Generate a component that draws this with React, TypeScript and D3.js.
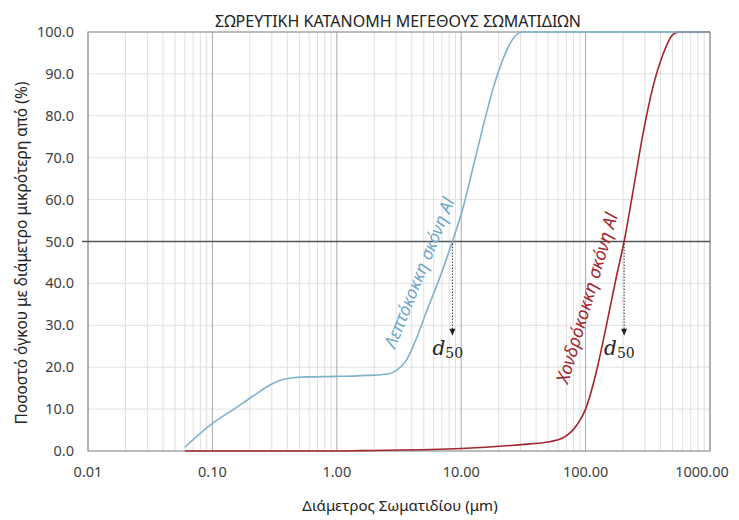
import React from "react";
import * as d3 from "d3";

const W = 739;
const H = 520;

const title = "ΣΩΡΕΥΤΙΚΗ ΚΑΤΑΝΟΜΗ ΜΕΓΕΘΟΥΣ ΣΩΜΑΤΙΔΙΩΝ";
const xTitle = "Διάμετρος Σωματιδίου (μm)";
const yTitle = "Ποσοστό όγκου  με διάμετρο μικρότερη από (%)";

const xTicks = [0.01, 0.1, 1, 10, 100, 1000];
const xTickLabels = ["0.01", "0.10", "1.00", "10.00", "100.00", "1000.00"];
const yTicks = [0, 10, 20, 30, 40, 50, 60, 70, 80, 90, 100];

const fineX = [0.06, 0.1, 0.146, 0.21, 0.3, 0.36, 0.45, 0.6, 1.0, 2.0, 2.68, 3.03, 3.63, 4.37, 5.26, 6.75, 8.5, 10.4, 12.5, 15.1, 18.1, 21.8, 26.3, 30.6, 1000];
const fineY = [0.9, 6.6, 9.8, 13.0, 16.0, 17.0, 17.5, 17.7, 17.8, 18.1, 18.5, 19.3, 21.7, 26.9, 33.3, 41.5, 50, 58.3, 67.9, 77.8, 86.6, 93.7, 98.5, 100, 100];

const coarseX = [0.06, 0.3, 1, 1.6, 10, 35.5, 48.6, 65.5, 85, 100, 122, 147, 178, 204, 240, 288, 346, 417, 500, 565, 1000];
const coarseY = [0, 0, 0, 0.1, 0.6, 1.7, 2.1, 3.1, 6.2, 10, 18.9, 30, 42, 50, 61.8, 75.4, 86.6, 94.5, 99.3, 100, 100];

const d50Fine = 8.5;
const d50Coarse = 204;

const fineLabel = "Λεπτόκοκκη σκόνη Al";
const coarseLabel = "Χονδρόκοκκη σκόνη Al";

const FINE = "#7fb2cc";
const COARSE = "#a3262e";
const FONT = "'Noto Sans', 'Open Sans', sans-serif";

export default function App() {
  const left = 88, right = 710, top = 32, bottom = 451;
  const x = d3.scaleLog().domain([0.01, 1000]).range([left, right]);
  const y = d3.scaleLinear().domain([0, 100]).range([bottom, top]);

  const minor: number[] = [];
  for (let e = -2; e < 3; e++) {
    for (let k = 2; k <= 9; k++) minor.push(k * Math.pow(10, e));
  }

  const line = d3
    .line<[number, number]>()
    .x((d) => x(d[0]))
    .y((d) => y(d[1]))
    .curve(d3.curveMonotoneX);

  const fineData = fineX.map((v, i) => [v, fineY[i]] as [number, number]);
  const coarseData = coarseX.map((v, i) => [v, coarseY[i]] as [number, number]);

  const arrow = (xv: number) => {
    const px = x(xv);
    const y0 = y(50) + 2;
    const y1 = y(27.5);
    return (
      <g>
        <line x1={px} x2={px} y1={y0} y2={y1 - 6} stroke="#333" strokeWidth={1} strokeDasharray="1.5,1.5" />
        <path d={`M${px - 3},${y1 - 7} L${px + 3},${y1 - 7} L${px},${y1} Z`} fill="#222" />
      </g>
    );
  };

  const d50Text = (xv: number) => {
    const px = x(xv);
    return (
      <text x={px - 20} y={355} fontFamily="'DejaVu Serif', 'Liberation Serif', serif" fill="#222">
        <tspan fontStyle="italic" fontSize={20}>d</tspan>
        <tspan fontSize={14} dy={3}>50</tspan>
      </text>
    );
  };

  return (
    <svg width={W} height={H} style={{ position: "absolute", left: 0, top: 0, background: "#fff" }}>
      <rect x={0} y={0} width={W} height={H} fill="#fff" />
      {yTicks.map((t) => (
        <line key={"h" + t} x1={left} x2={right} y1={y(t)} y2={y(t)} stroke="#e2e2e2" strokeWidth={1} />
      ))}
      {minor.map((m, i) => (
        <line key={"m" + i} x1={x(m)} x2={x(m)} y1={top} y2={bottom} stroke="#e0e0e0" strokeWidth={1} />
      ))}
      {xTicks.map((t) => (
        <line key={"v" + t} x1={x(t)} x2={x(t)} y1={top} y2={bottom} stroke="#a8a8a8" strokeWidth={1} />
      ))}
      <rect x={left} y={top} width={right - left} height={bottom - top} fill="none" stroke="#9a9a9a" strokeWidth={1.2} />
      <line x1={left - 6} x2={right} y1={y(50)} y2={y(50)} stroke="#555" strokeWidth={1.5} />

      <path d={line(coarseData) || ""} fill="none" stroke={COARSE} strokeWidth={1.6} />
      <path d={line(fineData) || ""} fill="none" stroke={FINE} strokeWidth={1.6} />

      {arrow(d50Fine)}
      {arrow(d50Coarse)}
      {d50Text(d50Fine)}
      {d50Text(d50Coarse)}

      <text
        transform={`translate(425,275) rotate(-68)`}
        textAnchor="middle"
        fontFamily={FONT}
        fontStyle="italic"
        fontSize={17.5}
        fill="#6fa6c8"
      >
        {fineLabel}
      </text>
      <text
        transform={`translate(593,300) rotate(-73.5)`}
        textAnchor="middle"
        fontFamily={FONT}
        fontStyle="italic"
        fontSize={18}
        fill={COARSE}
      >
        {coarseLabel}
      </text>

      {yTicks.map((t) => (
        <text key={"yl" + t} x={74} y={y(t) + 5} textAnchor="end" fontFamily={FONT} fontSize={14.5} fill="#404040">
          {t.toFixed(1)}
        </text>
      ))}
      {xTicks.map((t, i) => (
        <text key={"xl" + t} x={Math.min(x(t), 702)} y={477} textAnchor="middle" fontFamily={FONT} fontSize={14.5} fill="#404040">
          {xTickLabels[i]}
        </text>
      ))}

      <text x={398} y={27} textAnchor="middle" fontFamily={FONT} fontSize={16} fill="#222">
        {title}
      </text>
      <text x={400} y={511} textAnchor="middle" fontFamily={FONT} fontSize={15} fill="#222">
        {xTitle}
      </text>
      <text transform={`translate(27,253) rotate(-90)`} textAnchor="middle" fontFamily={FONT} fontSize={15.5} fill="#222">
        {yTitle}
      </text>
    </svg>
  );
}
